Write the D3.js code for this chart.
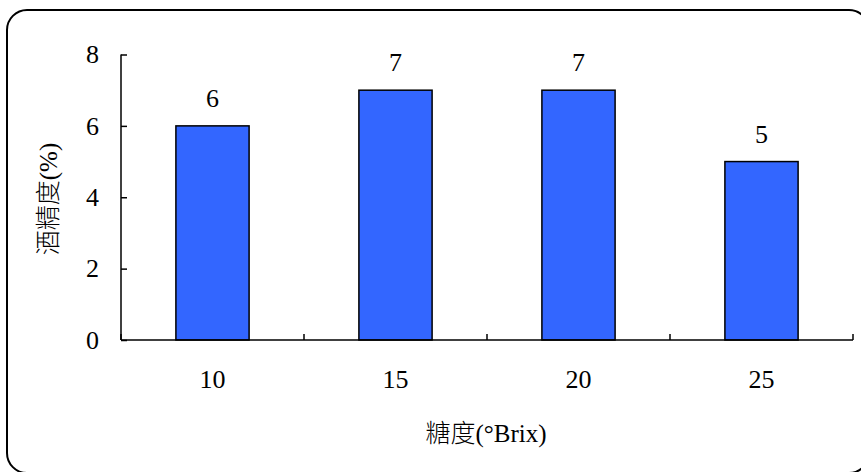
<!DOCTYPE html>
<html>
<head>
<meta charset="utf-8">
<script src="https://cdn.jsdelivr.net/npm/d3@7"></script>
<style>
  html, body { margin: 0; padding: 0; background: #fff; }
  svg { display: block; }
  text { fill: #000; }
</style>
</head>
<body>
<svg id="chart" width="861" height="472"></svg>
<script>
// Sugar content (°Brix) vs. alcohol content (%)
const categories = ["10", "15", "20", "25"];
const alcohol = [6, 7, 7, 5];
const yTicks = [0, 2, 4, 6, 8];
const xTitle = "糖度(°Brix)";
const yTitle = "酒精度(%)";

const svg = d3.select("#chart");
// Latin glyphs in a Times-like serif, CJK glyphs fall back to Noto CJK
const serif = '"Liberation Serif", "DejaVu Serif", "Noto Sans CJK TC", serif';

// Rounded frame (runs past the right and bottom edges)
svg.append("rect")
  .attr("x", 7).attr("y", 10)
  .attr("width", 862).attr("height", 463)
  .attr("rx", 20).attr("ry", 20)
  .attr("fill", "none").attr("stroke", "#000").attr("stroke-width", 2);

const plot = { left: 121, right: 853, top: 54.5, bottom: 340 };

const x = d3.scaleBand()
  .domain(categories)
  .range([plot.left, plot.right])
  .paddingInner(0.6)
  .paddingOuter(0.3);

const y = d3.scaleLinear()
  .domain([0, 8])
  .range([plot.bottom, plot.top]);

// Bars
svg.append("g").selectAll("rect")
  .data(categories)
  .join("rect")
  .attr("x", (d) => x(d))
  .attr("y", (d, i) => y(alcohol[i]))
  .attr("width", x.bandwidth())
  .attr("height", (d, i) => y(0) - y(alcohol[i]))
  .attr("fill", "#3366FF")
  .attr("stroke", "#000")
  .attr("stroke-width", 1.5);

// Value labels
svg.append("g").selectAll("text")
  .data(categories)
  .join("text")
  .attr("x", (d) => x(d) + x.bandwidth() / 2)
  .attr("y", (d, i) => y(alcohol[i]) - 19)
  .attr("text-anchor", "middle")
  .attr("font-family", serif)
  .attr("font-size", 26)
  .text((d, i) => alcohol[i]);

// Y axis with inward ticks
const yAxis = svg.append("g")
  .attr("transform", `translate(${plot.left},0)`)
  .call(d3.axisLeft(y).tickValues(yTicks).tickSize(-6).tickPadding(22));
yAxis.attr("font-family", serif).attr("font-size", 26);
yAxis.select(".domain").attr("d", `M0,${plot.top}V${plot.bottom}`)
  .attr("stroke-width", 1.5);
yAxis.selectAll(".tick line").attr("stroke-width", 1.5);
yAxis.selectAll(".tick text").attr("fill", "#000");

// X axis: baseline with tick marks at the band boundaries
const xAxis = svg.append("g").attr("transform", `translate(0,${plot.bottom})`);
xAxis.append("line")
  .attr("x1", plot.left).attr("x2", plot.right)
  .attr("y1", 0).attr("y2", 0)
  .attr("stroke", "#000").attr("stroke-width", 1.5);
const bounds = d3.range(categories.length + 1).map((i) => plot.left + i * x.step());
xAxis.selectAll("line.tick")
  .data(bounds)
  .join("line")
  .attr("class", "tick")
  .attr("x1", (d) => d).attr("x2", (d) => d)
  .attr("y1", 0).attr("y2", -6)
  .attr("stroke", "#000").attr("stroke-width", 1.5);
xAxis.selectAll("text")
  .data(categories)
  .join("text")
  .attr("x", (d) => x(d) + x.bandwidth() / 2)
  .attr("y", 48)
  .attr("text-anchor", "middle")
  .attr("font-family", serif)
  .attr("font-size", 26)
  .text((d) => d);

// Axis titles
svg.append("text")
  .attr("x", 486).attr("y", 442)
  .attr("text-anchor", "middle")
  .attr("font-family", serif)
  .attr("font-size", 25)
  .attr("font-weight", 300)
  .text(xTitle);

svg.append("text")
  .attr("transform", "translate(57,199) rotate(-90)")
  .attr("text-anchor", "middle")
  .attr("font-family", serif)
  .attr("font-size", 25)
  .attr("font-weight", 300)
  .text(yTitle);
</script>
</body>
</html>
